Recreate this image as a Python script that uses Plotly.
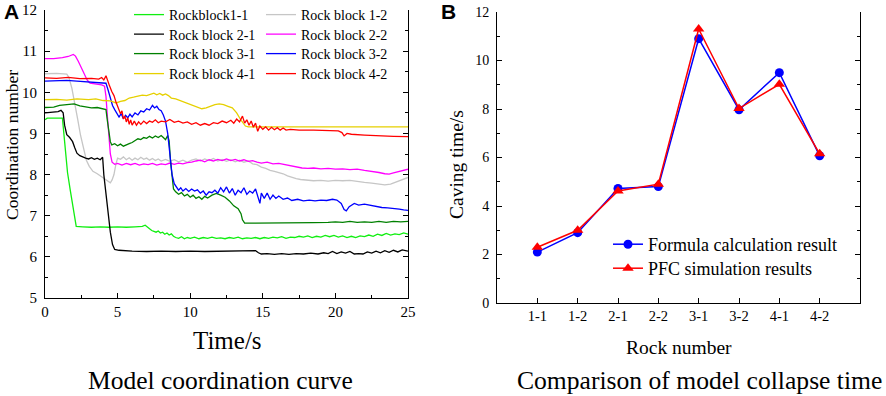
import plotly.graph_objects as go

# ---------------- Data: panel A (time s, coordination number) ----------------
rb11 = [(0,9.33),(0.15,9.37),(1.2,9.37),(1.3,9.0),(1.4,8.45),(1.55,8.05),(1.75,7.6),(1.95,7.15),(2.15,6.74),
        (2.6,6.73),(3.2,6.72),(3.8,6.73),(4.4,6.72),(5.0,6.73),(5.6,6.72),(6.2,6.73),(6.7,6.74),(6.9,6.77),
        (7.05,6.72),(7.2,6.68),(7.35,6.64),(7.5,6.62),(7.65,6.6),(7.8,6.63),(7.95,6.58),(8.1,6.6),(8.25,6.55),
        (8.4,6.58),(8.55,6.53),(8.7,6.56),(8.85,6.5),(9.0,6.47),(9.2,6.45),(9.4,6.49),(9.6,6.44),(9.8,6.47),
        (10.0,6.45),(10.3,6.48),(10.6,6.44),(10.9,6.47),(11.2,6.45),(11.5,6.48),(11.8,6.45),(12.1,6.46),
        (12.4,6.44),(12.7,6.47),(13.0,6.45),(13.3,6.48),(13.6,6.44),(13.9,6.46),(14.2,6.45),(14.5,6.47),
        (14.8,6.44),(15.1,6.47),(15.4,6.45),(15.7,6.48),(16.0,6.46),(16.3,6.49),(16.6,6.45),(16.9,6.48),
        (17.2,6.47),(17.5,6.5),(17.8,6.48),(18.1,6.51),(18.4,6.47),(18.7,6.5),(19.0,6.48),(19.3,6.52),
        (19.6,6.49),(19.9,6.52),(20.2,6.48),(20.5,6.51),(20.8,6.47),(21.1,6.5),(21.4,6.47),(21.7,6.51),
        (22.0,6.49),(22.3,6.53),(22.6,6.5),(22.9,6.55),(23.2,6.52),(23.5,6.57),(23.8,6.53),(24.1,6.56),
        (24.4,6.54),(24.7,6.58),(25.0,6.55)]
rb12 = [(0,10.45),(0.8,10.46),(1.5,10.44),(1.65,10.36),(1.85,10.1),(2.05,9.75),(2.25,9.35),(2.45,8.95),
        (2.65,8.62),(2.85,8.35),(3.05,8.2),(3.3,8.08),(3.6,8.02),(3.9,7.95),(4.15,7.9),(4.35,7.84),(4.5,7.8),
        (4.62,7.87),(4.75,8.0),(4.88,8.25),(5.0,8.4),(5.2,8.37),(5.4,8.43),(5.6,8.36),(5.8,8.41),(6.0,8.35),
        (6.2,8.4),(6.4,8.36),(6.6,8.42),(6.8,8.37),(7.0,8.4),(7.2,8.35),(7.4,8.39),(7.6,8.34),(7.8,8.38),
        (8.0,8.33),(8.3,8.37),(8.6,8.32),(8.9,8.36),(9.2,8.31),(9.5,8.35),(9.8,8.3),(10.1,8.35),(10.4,8.38),
        (10.7,8.33),(11.0,8.38),(11.3,8.34),(11.6,8.39),(11.9,8.33),(12.2,8.37),(12.5,8.32),(12.8,8.36),
        (13.1,8.31),(13.4,8.35),(13.7,8.3),(14.0,8.33),(14.3,8.26),(14.6,8.24),(14.9,8.18),(15.2,8.15),
        (15.5,8.1),(15.8,8.08),(16.1,8.05),(16.4,8.02),(16.7,7.97),(17.0,7.93),(17.3,7.9),(17.6,7.88),
        (18.0,7.87),(18.5,7.85),(19.0,7.86),(19.5,7.84),(20.0,7.86),(20.5,7.85),(21.0,7.86),(21.5,7.83),
        (22.0,7.81),(22.5,7.79),(23.0,7.77),(23.4,7.75),(23.8,7.77),(24.2,7.82),(24.6,7.88),(25.0,7.93)]
rb21 = [(0,9.5),(0.5,9.51),(0.9,9.53),(1.1,9.56),(1.25,9.5),(1.35,9.2),(1.5,8.97),(1.7,8.9),(1.9,8.8),
        (2.05,8.65),(2.2,8.52),(2.4,8.46),(2.6,8.42),(2.8,8.4),(3.0,8.38),(3.2,8.41),(3.4,8.37),(3.6,8.4),
        (3.8,8.36),(3.97,8.42),(4.05,8.0),(4.2,7.5),(4.35,7.0),(4.5,6.6),(4.65,6.3),(4.8,6.18),(5.1,6.16),
        (5.5,6.15),(6.0,6.14),(7,6.13),(8,6.14),(9,6.13),(10,6.14),(11,6.13),(12,6.14),(13,6.14),(14,6.15),
        (14.5,6.15),(14.7,6.1),(14.9,6.07),(15.3,6.08),(15.8,6.06),(16.3,6.08),(16.8,6.06),(17.3,6.08),
        (17.8,6.07),(18.3,6.09),(18.8,6.07),(19.2,6.1),(19.5,6.08),(19.8,6.13),(20.1,6.08),(20.4,6.12),
        (20.7,6.09),(21.0,6.13),(21.3,6.07),(21.6,6.08),(21.9,6.07),(22.2,6.12),(22.5,6.09),(22.8,6.14),
        (23.1,6.1),(23.4,6.15),(23.7,6.11),(24.0,6.16),(24.3,6.12),(24.6,6.17),(25.0,6.14)]
rb22 = [(0,10.82),(0.6,10.82),(1.2,10.84),(1.6,10.87),(1.95,10.92),(2.1,10.88),(2.3,10.75),(2.5,10.6),
        (2.7,10.45),(2.9,10.3),(3.1,10.22),(3.5,10.2),(3.9,10.18),(4.1,10.15),(4.2,9.9),(4.3,9.4),(4.4,8.9),
        (4.5,8.5),(4.62,8.3),(4.8,8.25),(5.0,8.27),(5.3,8.23),(5.6,8.27),(5.9,8.24),(6.2,8.27),(6.5,8.23),
        (6.8,8.26),(7.1,8.24),(7.4,8.27),(7.7,8.23),(8.0,8.26),(8.3,8.24),(8.6,8.28),(8.9,8.25),(9.2,8.28),
        (9.5,8.26),(9.8,8.29),(10.1,8.3),(10.4,8.33),(10.7,8.35),(11.0,8.31),(11.3,8.36),(11.6,8.33),
        (11.9,8.37),(12.2,8.34),(12.5,8.38),(12.8,8.34),(13.1,8.37),(13.4,8.33),(13.7,8.36),(14.0,8.32),
        (14.3,8.34),(14.6,8.3),(14.9,8.28),(15.3,8.3),(15.7,8.26),(16.1,8.27),(16.5,8.24),(16.9,8.22),
        (17.3,8.19),(17.7,8.16),(18.1,8.15),(18.5,8.16),(19.0,8.14),(19.5,8.15),(20.0,8.13),(20.5,8.14),
        (21.0,8.12),(21.5,8.13),(22.0,8.1),(22.5,8.08),(23.0,8.05),(23.4,8.02),(23.7,8.01),(24.0,8.04),
        (24.4,8.08),(24.7,8.1),(25.0,8.13)]
rb31 = [(0,9.63),(0.6,9.64),(1.0,9.68),(1.5,9.7),(2.0,9.72),(2.4,9.67),(2.8,9.64),(3.2,9.62),(3.6,9.63),
        (4.0,9.6),(4.2,9.58),(4.3,9.3),(4.4,9.0),(4.5,8.8),(4.6,8.72),(4.8,8.75),(5.0,8.7),(5.2,8.74),
        (5.4,8.69),(5.6,8.73),(5.8,8.75),(6.0,8.78),(6.2,8.82),(6.4,8.87),(6.6,8.85),(6.8,8.9),(7.0,8.88),
        (7.2,8.93),(7.4,8.89),(7.6,8.94),(7.8,8.9),(8.0,8.95),(8.15,8.9),(8.3,8.85),(8.45,8.95),(8.55,8.82),
        (8.65,8.3),(8.75,7.9),(8.85,7.65),(9.0,7.58),(9.2,7.52),(9.4,7.56),(9.6,7.48),(9.8,7.52),(10.0,7.45),
        (10.2,7.5),(10.4,7.42),(10.6,7.46),(10.8,7.4),(11.0,7.47),(11.2,7.43),(11.5,7.5),(11.8,7.54),
        (12.1,7.5),(12.4,7.45),(12.7,7.36),(13.0,7.24),(13.3,7.17),(13.5,7.05),(13.6,6.9),(13.75,6.82),
        (14.5,6.82),(15.5,6.82),(16.5,6.83),(17.5,6.82),(18.5,6.83),(19.5,6.84),(20.0,6.85),(20.5,6.84),
        (21.0,6.86),(21.5,6.84),(22.0,6.85),(22.5,6.84),(23.0,6.86),(23.5,6.84),(24.0,6.86),(24.5,6.85),
        (25.0,6.86)]
rb32 = [(0,10.27),(0.8,10.28),(1.5,10.29),(2.2,10.27),(3.0,10.25),(3.6,10.24),(4.0,10.22),(4.2,10.22),
        (4.35,10.05),(4.5,9.85),(4.65,9.68),(4.8,9.58),(4.95,9.5),(5.1,9.4),(5.25,9.48),(5.4,9.36),
        (5.55,9.44),(5.7,9.38),(5.85,9.47),(6.0,9.4),(6.2,9.5),(6.4,9.45),(6.6,9.55),(6.8,9.52),(7.0,9.6),
        (7.2,9.57),(7.4,9.68),(7.55,9.62),(7.7,9.66),(7.85,9.58),(8.0,9.55),(8.15,9.45),(8.3,9.3),(8.45,9.0),
        (8.6,8.5),(8.75,8.0),(8.9,7.78),(9.05,7.7),(9.2,7.62),(9.35,7.68),(9.5,7.6),(9.7,7.66),(9.9,7.59),
        (10.1,7.65),(10.3,7.6),(10.5,7.63),(10.7,7.55),(10.9,7.6),(11.1,7.5),(11.3,7.58),(11.5,7.56),
        (11.7,7.62),(11.9,7.55),(12.1,7.68),(12.3,7.58),(12.5,7.7),(12.7,7.55),(12.9,7.66),(13.1,7.5),
        (13.3,7.62),(13.5,7.56),(13.7,7.68),(13.9,7.52),(14.1,7.6),(14.3,7.55),(14.5,7.65),(14.7,7.45),
        (14.8,7.3),(14.9,7.55),(15.1,7.42),(15.3,7.55),(15.5,7.4),(15.7,7.5),(15.9,7.42),(16.1,7.48),
        (16.4,7.4),(16.7,7.43),(17.0,7.37),(17.4,7.4),(17.8,7.36),(18.2,7.38),(18.6,7.36),(19.0,7.38),
        (19.4,7.37),(19.8,7.4),(20.1,7.38),(20.4,7.3),(20.6,7.15),(20.75,7.12),(20.95,7.22),(21.3,7.3),
        (21.6,7.26),(22.0,7.28),(22.4,7.25),(22.8,7.22),(23.2,7.2),(23.6,7.19),(24.0,7.18),(24.4,7.16),
        (24.7,7.14),(25.0,7.13)]
rb41 = [(0,9.82),(0.8,9.83),(1.5,9.81),(2.2,9.84),(3.0,9.82),(3.5,9.84),(4.0,9.8),(4.5,9.79),(4.9,9.74),
        (5.2,9.78),(5.5,9.8),(5.8,9.86),(6.1,9.88),(6.4,9.9),(6.7,9.93),(7.0,9.92),(7.3,9.96),(7.5,9.98),
        (7.7,9.94),(7.9,9.97),(8.1,9.93),(8.3,9.96),(8.5,9.92),(8.7,9.86),(9.0,9.84),(9.3,9.8),(9.6,9.76),
        (9.9,9.72),(10.2,9.68),(10.5,9.63),(10.8,9.6),(11.1,9.62),(11.4,9.66),(11.7,9.7),(12.0,9.72),
        (12.3,9.7),(12.6,9.66),(12.9,9.62),(13.2,9.5),(13.5,9.32),(13.8,9.18),(14.0,9.16),(15,9.16),
        (16,9.16),(17,9.16),(18,9.16),(19,9.16),(20,9.16),(21,9.16),(22,9.16),(23,9.16),(24,9.16),(25,9.16)]
rb42 = [(0,10.35),(0.8,10.34),(1.6,10.36),(2.4,10.33),(3.2,10.34),(3.7,10.32),(3.9,10.36),(4.05,10.3),
        (4.2,10.4),(4.3,10.28),(4.45,10.15),(4.6,10.02),(4.75,9.92),(4.9,9.75),(5.05,9.62),(5.2,9.48),
        (5.3,9.55),(5.4,9.35),(5.5,9.42),(5.6,9.28),(5.7,9.38),(5.8,9.22),(5.9,9.33),(6.0,9.2),(6.15,9.3),
        (6.3,9.2),(6.45,9.28),(6.6,9.22),(6.8,9.3),(7.0,9.24),(7.2,9.3),(7.4,9.27),(7.6,9.33),(7.8,9.26),
        (8.0,9.3),(8.3,9.28),(8.6,9.34),(8.9,9.27),(9.2,9.3),(9.5,9.25),(9.8,9.28),(10.1,9.22),(10.4,9.26),
        (10.7,9.2),(11.0,9.24),(11.3,9.2),(11.6,9.26),(11.9,9.24),(12.2,9.3),(12.5,9.26),(12.8,9.32),
        (13.0,9.25),(13.2,9.35),(13.4,9.28),(13.6,9.42),(13.75,9.25),(13.9,9.33),(14.05,9.2),(14.2,9.3),
        (14.35,9.15),(14.5,9.25),(14.65,9.05),(14.8,9.18),(15.0,9.1),(15.2,9.16),(15.4,9.08),(15.6,9.15),
        (15.8,9.09),(16.0,9.14),(16.2,9.08),(16.4,9.13),(16.6,9.08),(16.9,9.1),(17.5,9.08),(18.5,9.08),
        (19.5,9.07),(20.2,9.06),(20.45,9.02),(20.6,8.94),(20.8,9.0),(21.1,8.98),(22.0,8.96),(23.0,8.94),
        (24.0,8.93),(25.0,8.92)]

series_names = ["Rockblock1-1", "Rock block 1-2", "Rock block 2-1", "Rock block 2-2",
                "Rock block 3-1", "Rock block 3-2", "Rock block 4-1", "Rock block 4-2"]
series_data = [rb11, rb12, rb21, rb22, rb31, rb32, rb41, rb42]
series_colors = ["#10ee10", "#c6c6c6", "#000000", "#ff00ff", "#008000", "#0000ff", "#e6d000", "#ff0000"]

# ---------------- Data: panel B ----------------
rock_numbers = ["1-1", "1-2", "2-1", "2-2", "3-1", "3-2", "4-1", "4-2"]
formula_time = [2.1, 2.9, 4.72, 4.8, 10.9, 7.97, 9.5, 6.07]
pfc_time = [2.3, 3.0, 4.62, 4.9, 11.3, 8.02, 9.02, 6.15]

SERIF = "Liberation Serif"
W, H = 886, 396

def px(x):
    return x / W

def py(y):
    return 1 - y / H

fig = go.Figure()

legend_layout = {}

def legend_name(k):
    return "legend" if k == 1 else f"legend{k}"

legend_common = dict(bgcolor="rgba(0,0,0,0)", orientation="v", xanchor="left", yanchor="top",
                     itemwidth=30)

# panel A legend: 2 columns x 4 rows, one legend per entry for exact placement
LEG_OFF_A = 16
col_x = [129, 261]
row_y = [15, 34.5, 54, 74]
for i, (name, data, col) in enumerate(zip(series_names, series_data, series_colors)):
    k = i + 1
    fig.add_trace(go.Scatter(
        x=[p[0] for p in data], y=[p[1] for p in data], mode="lines", name=name,
        line=dict(color=col, width=1.3), xaxis="x", yaxis="y", legend=legend_name(k)))
    legend_layout[legend_name(k)] = dict(legend_common, font=dict(family=SERIF, size=14, color="black"),
                                         x=px(col_x[i % 2]), y=py(row_y[i // 2] - LEG_OFF_A))

fig.add_trace(go.Scatter(x=rock_numbers, y=formula_time, mode="lines+markers",
                         name="Formula calculation result",
                         line=dict(color="#0000ff", width=1.5),
                         marker=dict(symbol="circle", size=9, color="#0000ff"),
                         xaxis="x2", yaxis="y2", legend="legend9"))
fig.add_trace(go.Scatter(x=rock_numbers, y=pfc_time, mode="lines+markers",
                         name="PFC simulation results",
                         line=dict(color="#ff0000", width=1.5),
                         marker=dict(symbol="triangle-up", size=10, color="#ff0000"),
                         xaxis="x2", yaxis="y2", legend="legend10"))
LEG_OFF_B = 18
legend_layout["legend9"] = dict(legend_common, font=dict(family=SERIF, size=18, color="black"),
                                x=px(608), y=py(244 - LEG_OFF_B))
legend_layout["legend10"] = dict(legend_common, font=dict(family=SERIF, size=18, color="black"),
                                 x=px(608), y=py(268 - LEG_OFF_B))

axis_common = dict(showline=True, linecolor="black", linewidth=1, ticks="inside", ticklen=5,
                   tickcolor="black", tickwidth=1, showgrid=False, zeroline=False,
                   tickfont=dict(family=SERIF, size=15, color="black"))

fig.update_layout(
    width=W, height=H, margin=dict(l=0, r=0, t=0, b=0, autoexpand=False),
    font=dict(family=SERIF, color="black"),
    paper_bgcolor="white", plot_bgcolor="white",
    xaxis=dict(axis_common, domain=[px(45), px(408)], range=[0, 25], dtick=5, tick0=0,
               minor=dict(ticks="inside", ticklen=3, tickcolor="black", dtick=2.5), anchor="y"),
    yaxis=dict(axis_common, domain=[py(298), py(10)], range=[5, 12], dtick=1, mirror="ticks",
               ticklabelstandoff=4,
               minor=dict(ticks="inside", ticklen=3, tickcolor="black", dtick=0.5), anchor="x"),
    xaxis2=dict(axis_common, domain=[px(497), px(860)], range=[-1, 8], type="category",
                tickfont=dict(family=SERIF, size=14.5, color="black"), anchor="y2"),
    yaxis2=dict(axis_common, domain=[py(303), py(12)], range=[0, 12], dtick=2, mirror="ticks",
                ticklabelstandoff=4,
                tickfont=dict(family=SERIF, size=14, color="black"),
                minor=dict(ticks="inside", ticklen=3, tickcolor="black", dtick=1), anchor="x2"),
    showlegend=True,
    **legend_layout,
)

annotations = [
    dict(text="<b>A</b>", x=px(11), y=py(12), font=dict(family="Liberation Sans", size=21)),
    dict(text="<b>B</b>", x=px(448), y=py(12), font=dict(family="Liberation Sans", size=21)),
    dict(text="Coordination number", x=px(12), y=py(145), textangle=-90,
         font=dict(family=SERIF, size=17.5)),
    dict(text="Time/s", x=px(227), y=py(340), font=dict(family=SERIF, size=25)),
    dict(text="Model coordination curve", x=px(220), y=py(380), font=dict(family=SERIF, size=25.5)),
    dict(text="Caving time/s", x=px(456), y=py(165), textangle=-90, font=dict(family=SERIF, size=19.5)),
    dict(text="Rock number", x=px(679), y=py(347), font=dict(family=SERIF, size=19.5)),
    dict(text="Comparison of model collapse time", x=px(699), y=py(380),
         font=dict(family=SERIF, size=25.6)),
]
for a in annotations:
    a.update(xref="paper", yref="paper", showarrow=False, xanchor="center", yanchor="middle")
    a["font"]["color"] = "black"
fig.update_layout(annotations=annotations)

# remove the browser's default 8px page margin so the figure sits at the window origin
fig.write_html("out.html", config={"displayModeBar": False},
               post_script="document.body.style.margin='0px';")
